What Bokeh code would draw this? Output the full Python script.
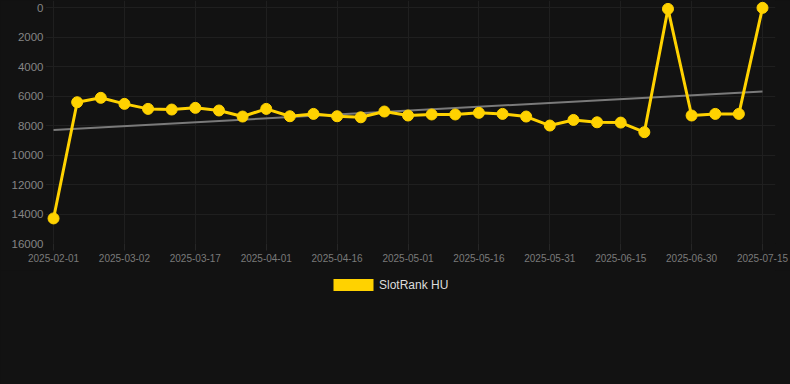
from bokeh.plotting import figure
from bokeh.layouts import column
from bokeh.models import (ColumnDataSource, Range1d, FixedTicker, Legend, LegendItem,
                          GlobalInlineStyleSheet)
from bokeh.embed import file_html
from bokeh.resources import INLINE
import numpy as np

dates = ["2025-02-01", "2025-02-11", "2025-02-21", "2025-03-02", "2025-03-07", "2025-03-12",
         "2025-03-17", "2025-03-22", "2025-03-27", "2025-04-01", "2025-04-06", "2025-04-11",
         "2025-04-16", "2025-04-21", "2025-04-26", "2025-05-01", "2025-05-06", "2025-05-11",
         "2025-05-16", "2025-05-21", "2025-05-26", "2025-05-31", "2025-06-05", "2025-06-10",
         "2025-06-15", "2025-06-20", "2025-06-25", "2025-06-30", "2025-07-05", "2025-07-10",
         "2025-07-15"]
rank_hu = [14300, 6420, 6120, 6530, 6870, 6915, 6800, 6980, 7390, 6870, 7370, 7210,
           7370, 7440, 7050, 7320, 7250, 7250, 7140, 7210, 7390, 8000, 7620, 7780,
           7800, 8450, 90, 7320, 7210, 7210, 20]
y_ticks = [0, 2000, 4000, 6000, 8000, 10000, 12000, 14000, 16000]
series_name = "SlotRank HU"

BG = "#121212"
YELLOW = "#ffd200"
FONT = "Liberation Sans"

idx = list(range(len(dates)))
src = ColumnDataSource(dict(x=idx, y=rank_hu, d=dates))

slope, intercept = np.polyfit(idx, rank_hu, 1)
trend_x = [idx[0], idx[-1]]
trend_y = [intercept + slope * v for v in trend_x]

p = figure(width=790, height=270, output_backend="svg", toolbar_location=None,
           x_range=Range1d(-0.34, 30.55), y_range=Range1d(16000, -480),
           min_border_left=45, min_border_right=15, min_border_top=0, min_border_bottom=27)
p.stylesheets = [GlobalInlineStyleSheet(css="html,body{background:#121212;margin:0;overflow:hidden}")]
p.background_fill_color = BG
p.border_fill_color = BG
p.outline_line_color = None

p.line(trend_x, trend_y, line_color="#7a7a7a", line_width=2)
p.line("x", "y", source=src, line_color=YELLOW, line_width=3)
p.scatter("x", "y", source=src, size=11, fill_color=YELLOW, line_color=YELLOW)

# axes
p.xaxis.ticker = FixedTicker(ticks=idx[::3])
p.xaxis.major_label_overrides = {i: dates[i] for i in idx[::3]}
p.yaxis.ticker = FixedTicker(ticks=y_ticks)
for ax in (p.xaxis, p.yaxis):
    ax.axis_line_color = None
    ax.minor_tick_line_color = None
    ax.major_label_text_font = FONT
    ax.major_label_text_color = "#858585"
p.yaxis.major_tick_out = 0
p.yaxis.major_tick_in = 0
p.yaxis.major_label_standoff = 2
p.yaxis.major_label_text_font_size = "11.5px"
p.xaxis.major_tick_out = 7
p.xaxis.major_tick_in = 0
p.xaxis.major_tick_line_color = "#262626"
p.xaxis.major_label_standoff = 3
p.xaxis.major_label_text_font_size = "10px"
p.xaxis.major_label_text_color = "#7a7a7a"

p.xgrid.grid_line_color = "#1f1f1f"
p.ygrid.grid_line_color = "#1f1f1f"

# legend strip below the chart
lg = figure(width=790, height=114, output_backend="svg", toolbar_location=None,
            x_axis_type=None, y_axis_type=None,
            x_range=Range1d(-0.34, 30.55), y_range=Range1d(16000, -480),
            min_border_left=0, min_border_right=0, min_border_top=0, min_border_bottom=0)
lg.background_fill_color = BG
lg.border_fill_color = BG
lg.outline_line_color = None
lg.xgrid.visible = False
lg.ygrid.visible = False
# zero-height bar: only used for the legend swatch
dummy = lg.vbar(x=idx[:1], top=rank_hu[:1], bottom=rank_hu[:1], width=0.5,
                fill_color=YELLOW, line_color=None)
legend = Legend(items=[LegendItem(label=series_name, renderers=[dummy])],
                location=(283, 92), orientation="horizontal",
                background_fill_alpha=0, border_line_color=None,
                glyph_width=50, glyph_height=15, label_height=12, label_text_font=FONT,
                label_text_font_size="12px", label_text_color="#dddddd",
                margin=0, padding=0, label_standoff=1)
lg.add_layout(legend, "center")

layout = column(p, lg, spacing=0)
open("out.html", "w").write(file_html(layout, INLINE))
